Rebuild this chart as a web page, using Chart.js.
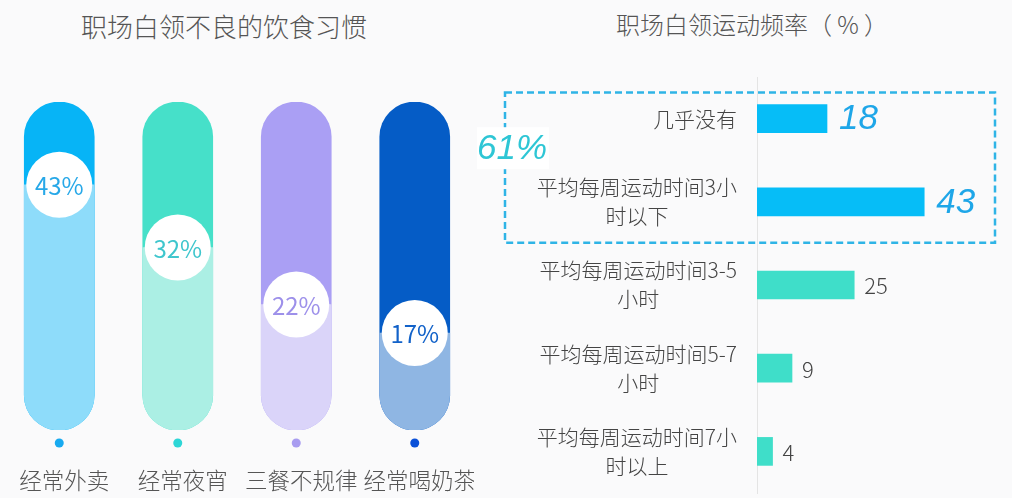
<!DOCTYPE html>
<html lang="zh">
<head>
<meta charset="utf-8">
<script src="https://cdn.jsdelivr.net/npm/chart.js@4.4.1/dist/chart.umd.min.js"></script>
<style>
  html, body { margin: 0; padding: 0; background: #fafafb; }
  body { width: 1012px; height: 498px; position: relative; overflow: hidden; font-family: "Noto Sans CJK SC", sans-serif; }
  .title { position: absolute; color: #555; white-space: nowrap; transform: translateX(-50%); line-height: 1; font-weight: 300; }
  #dietTitle { left: 224px; top: 13px; font-size: 26px; }
  #sportTitle { left: 752px; top: 12px; font-size: 24px; }
  #dietChart { position: absolute; left: 0; top: 0; }
  #sportChart { position: absolute; left: 470px; top: 0; }
</style>
</head>
<body>
<div class="title" id="dietTitle">职场白领不良的饮食习惯</div>
<div class="title" id="sportTitle">职场白领运动频率（ % ）</div>
<canvas id="dietChart" width="474" height="498"></canvas>
<canvas id="sportChart" width="542" height="498"></canvas>
<script>
const FONT = '"Noto Sans CJK SC", sans-serif';
const NUM_FONT = '"Liberation Sans", Arial, sans-serif';

// left: diet habits
const dietLabels = ['经常外卖', '经常夜宵', '三餐不规律', '经常喝奶茶'];
const dietValues = [43, 32, 22, 17];
const dietTrackMax = 57.5;
const dietDark = ['#07b4f6', '#46e0c9', '#aa9ff4', '#055cc6'];
const dietLight = ['#8edcfa', '#abefe4', '#dad4f9', '#8fb6e3'];
const dietText = ['#27a8e8', '#3fc6cd', '#9d90ea', '#1262c9'];
const dietDot = ['#18aaf0', '#2dd6d6', '#a89cf0', '#0a50d8'];

// right: exercise frequency
const sportLabels = [
  ['几乎没有'],
  ['平均每周运动时间3小', '时以下'],
  ['平均每周运动时间3-5', '小时'],
  ['平均每周运动时间5-7', '小时'],
  ['平均每周运动时间7小', '时以上'],
];
const sportValues = [18, 43, 25, 9, 4];
const sportColors = ['#06bdf7', '#06bdf7', '#3fdec9', '#3fdec9', '#3fdec9'];
const sportHighlight = [true, true, false, false, false];
const sportHighlightText = '61%';

const dietPlugin = {
  id: 'dietMarks',
  afterDatasetsDraw(chart) {
    const { ctx, chartArea } = chart;
    const meta = chart.getDatasetMeta(0);
    ctx.save();
    ctx.textAlign = 'center';
    ctx.textBaseline = 'middle';
    meta.data.forEach((el, i) => {
      ctx.beginPath();
      ctx.arc(el.x, el.y, 33, 0, Math.PI * 2);
      ctx.fillStyle = '#ffffff';
      ctx.fill();
      ctx.fillStyle = dietText[i];
      ctx.font = '24px ' + FONT;
      ctx.fillText(dietValues[i] + '%', el.x, el.y + 1);

      ctx.beginPath();
      ctx.arc(el.x, chartArea.bottom + 13, 4.5, 0, Math.PI * 2);
      ctx.fillStyle = dietDot[i];
      ctx.fill();

      ctx.fillStyle = '#555';
      ctx.font = '300 22.5px ' + FONT;
      ctx.fillText(dietLabels[i], el.x + 5, chartArea.bottom + 50);
    });
    ctx.restore();
  },
};

new Chart(document.getElementById('dietChart'), {
  type: 'bar',
  data: {
    labels: dietLabels,
    datasets: [
      {
        data: dietValues,
        backgroundColor: dietLight,
        barThickness: 70,
        borderRadius: { topLeft: 0, topRight: 0, bottomLeft: 35, bottomRight: 35 },
        borderSkipped: false,
        grouped: false,
      },
      {
        data: dietValues.map(() => dietTrackMax),
        backgroundColor: dietDark,
        barThickness: 70,
        borderRadius: 35,
        borderSkipped: false,
        grouped: false,
      },
    ],
  },
  options: {
    responsive: false,
    animation: false,
    layout: { padding: { top: 102, bottom: 0, left: 0, right: 0 } },
    plugins: { legend: { display: false }, tooltip: { enabled: false } },
    scales: {
      x: {
        grid: { display: false, drawTicks: false },
        border: { display: false },
        ticks: { display: false },
        afterFit(s) { s.height = 68; },
      },
      y: { display: false, min: 0, max: dietTrackMax },
    },
  },
  plugins: [dietPlugin],
});

const sportPlugin = {
  id: 'sportMarks',
  afterDatasetsDraw(chart) {
    const { ctx, chartArea, scales } = chart;
    const y = scales.y;
    const meta = chart.getDatasetMeta(0);
    ctx.save();

    // category labels: block right-aligned, lines centered in block
    ctx.font = '300 21px ' + FONT;
    ctx.fillStyle = '#444';
    ctx.textAlign = 'center';
    ctx.textBaseline = 'middle';
    const lineH = 29;
    sportLabels.forEach((lines, i) => {
      const cy = y.getPixelForValue(i);
      const w = Math.max(...lines.map((l) => ctx.measureText(l).width));
      const cx = chartArea.left - 20 - w / 2;
      const y0 = cy - (lines.length - 1) * lineH / 2;
      lines.forEach((l, j) => ctx.fillText(l, cx, y0 + j * lineH));
    });

    // value labels
    meta.data.forEach((el, i) => {
      ctx.textAlign = 'left';
      if (sportHighlight[i]) {
        ctx.font = 'italic 35px ' + NUM_FONT;
        ctx.fillStyle = '#1ea6e8';
        ctx.fillText(sportValues[i], el.x + 12, el.y + 1);
      } else {
        ctx.font = '300 22px ' + FONT;
        ctx.fillStyle = '#444';
        ctx.fillText(sportValues[i], el.x + 10, el.y + 1);
      }
    });

    // dashed box around highlighted rows
    const first = sportHighlight.indexOf(true);
    const last = sportHighlight.lastIndexOf(true);
    const top = y.getPixelForValue(first) - 26;
    const bottom = y.getPixelForValue(last) + 41;
    const left = chartArea.left - 252;
    const right = chartArea.right - 7;
    ctx.setLineDash([7, 4]);
    ctx.lineWidth = 2.5;
    ctx.strokeStyle = '#2fb4e6';
    ctx.strokeRect(left, top, right - left, bottom - top);
    ctx.setLineDash([]);

    const ty = (y.getPixelForValue(first) + y.getPixelForValue(last)) / 2 - 12;
    ctx.fillStyle = '#ffffff';
    ctx.fillRect(left - 28, ty - 21, 72, 42);
    ctx.font = 'italic 35px ' + NUM_FONT;
    ctx.fillStyle = '#2ec6d5';
    ctx.textAlign = 'center';
    ctx.fillText(sportHighlightText, left + 7, ty + 1);
    ctx.restore();
  },
};

new Chart(document.getElementById('sportChart'), {
  type: 'bar',
  data: {
    labels: sportLabels.map((l) => l.join('')),
    datasets: [{
      data: sportValues,
      backgroundColor: sportColors,
      barThickness: 28,
    }],
  },
  options: {
    indexAxis: 'y',
    responsive: false,
    animation: false,
    layout: { padding: { top: 77, bottom: 5, left: 0, right: 10 } },
    plugins: { legend: { display: false }, tooltip: { enabled: false } },
    scales: {
      x: { display: false, min: 0, max: 63 },
      y: {
        grid: { display: false, drawTicks: false },
        border: { display: true, color: '#e4e4e4', width: 1 },
        ticks: { display: false },
        afterFit(s) { s.width = 287; },
      },
    },
  },
  plugins: [sportPlugin],
});
</script>
</body>
</html>
